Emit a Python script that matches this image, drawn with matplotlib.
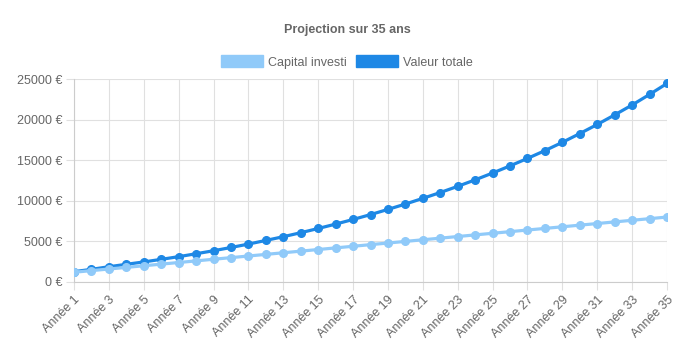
import matplotlib.pyplot as plt
from matplotlib.patches import Patch

plt.rcParams['font.family'] = ['Liberation Sans', 'DejaVu Sans']

years = [f"Année {i}" for i in range(1, 36)]
capital = [1200, 1400, 1600, 1800, 2000, 2200, 2400, 2600, 2800, 3000,
           3200, 3400, 3600, 3800, 4000, 4200, 4400, 4600, 4800, 5000,
           5200, 5400, 5600, 5800, 6000, 6200, 6400, 6600, 6800, 7000,
           7200, 7400, 7600, 7800, 8000]
total = [1270, 1560, 1880, 2180, 2470, 2790, 3120, 3480, 3850, 4250,
         4670, 5120, 5580, 6070, 6590, 7130, 7700, 8300, 8940, 9600,
         10300, 11020, 11780, 12580, 13420, 14300, 15220, 16180, 17200, 18280,
         19400, 20580, 21800, 23100, 24450]

light = '#90CAF9'
dark = '#1E88E5'
grey = '#666666'
gridc = '#e0e0e0'

fig = plt.figure(figsize=(6.94, 3.53), dpi=100)
ax = fig.add_axes([74 / 694, 1 - 282 / 353, (667 - 74) / 694, (282 - 79) / 353])

x = list(range(len(years)))
ax.plot(x, total, color=dark, lw=2.3, marker='o', ms=5.5, zorder=3)
ax.plot(x, capital, color=light, lw=2.3, marker='o', ms=5.5, zorder=4)

ax.set_xlim(0, len(years) - 1)
ax.set_ylim(0, 25000)
ax.set_yticks(range(0, 25001, 5000))
ax.set_yticklabels([f"{v} €" for v in range(0, 25001, 5000)])
ax.set_xticks(x[::2])
ax.set_xticklabels(years[::2], rotation=45, ha='right', rotation_mode='anchor')

ax.grid(True, color=gridc, lw=0.8)
ax.set_axisbelow(True)
for s in ['top', 'right']:
    ax.spines[s].set_visible(False)
for s in ['left', 'bottom']:
    ax.spines[s].set_color('#cccccc')
ax.tick_params(colors=grey, labelsize=9, length=6, width=0.8, pad=2.5)
ax.tick_params(axis='both', color=gridc)

fig.text(0.5, 1 - 30 / 353, 'Projection sur 35 ans', ha='center', va='center',
         fontsize=9, fontweight='bold', color=grey)

handles = [Patch(facecolor=light, edgecolor=light), Patch(facecolor=dark, edgecolor=dark)]
fig.legend(handles, ['Capital investi', 'Valeur totale'], loc='center',
           bbox_to_anchor=(0.5, 1 - 62 / 353), ncol=2, frameon=False,
           handlelength=3.4, handleheight=1.1, handletextpad=0.4, columnspacing=0.7,
           fontsize=9, labelcolor=grey)

fig.savefig('out.png', dpi=100)
